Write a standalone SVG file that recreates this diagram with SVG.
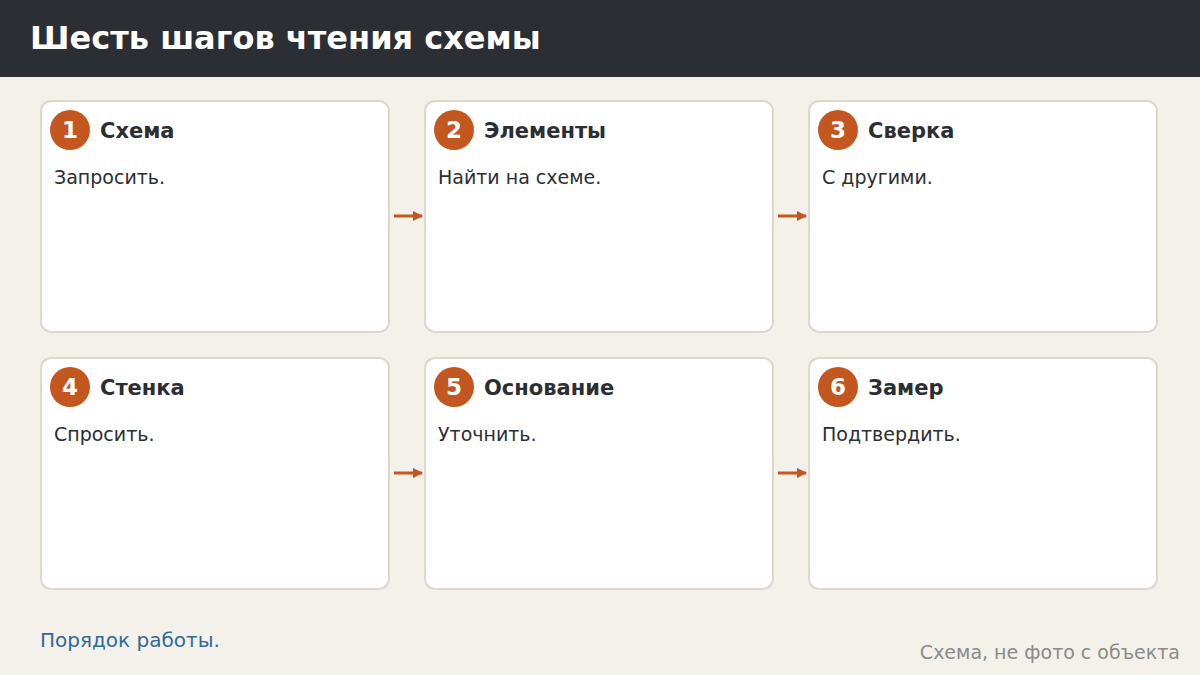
<svg xmlns="http://www.w3.org/2000/svg" width="1200" height="675" viewBox="0 0 1200 675">
<style>
text{font-family:"DejaVu Sans","Noto Sans",sans-serif}
.card{fill:#ffffff;stroke:#ddd8cf;stroke-width:2}
.badge{fill:#c4561f}
.num{fill:#ffffff;font-size:23px;font-weight:bold;text-anchor:middle}
.ttl{fill:#2b2e33;font-size:21px;font-weight:bold}
.body{fill:#2b2e33;font-size:19px}
.arrow{stroke:#c4561f;stroke-width:3;fill:none}
</style>
<defs>
<marker id="ah" viewBox="0 0 10 10" refX="9" refY="5" markerWidth="3.4" markerHeight="3.4" orient="auto" markerUnits="strokeWidth">
<path d="M0,0 L10,5 L0,10 z" fill="#c4561f"/>
</marker>
</defs>
<rect x="0" y="0" width="1200" height="675" fill="#f4f1eb"/>
<rect x="0" y="0" width="1200" height="77" fill="#2b2e33"/>
<text x="30" y="49" fill="#ffffff" font-size="32" font-weight="bold">Шесть шагов чтения схемы</text>

<g id="node1">
<rect class="card" x="41" y="101" width="348" height="231" rx="10"/>
<circle class="badge" cx="70" cy="130" r="20"/>
<text class="num" x="70" y="138">1</text>
<text class="ttl" x="100" y="138">Схема</text>
<text class="body" x="54" y="184">Запросить.</text>
</g>
<g id="node2">
<rect class="card" x="425" y="101" width="348" height="231" rx="10"/>
<circle class="badge" cx="454" cy="130" r="20"/>
<text class="num" x="454" y="138">2</text>
<text class="ttl" x="484" y="138">Элементы</text>
<text class="body" x="438" y="184">Найти на схеме.</text>
</g>
<g id="node3">
<rect class="card" x="809" y="101" width="348" height="231" rx="10"/>
<circle class="badge" cx="838" cy="130" r="20"/>
<text class="num" x="838" y="138">3</text>
<text class="ttl" x="868" y="138">Сверка</text>
<text class="body" x="822" y="184">С другими.</text>
</g>
<g id="node4">
<rect class="card" x="41" y="358" width="348" height="231" rx="10"/>
<circle class="badge" cx="70" cy="387" r="20"/>
<text class="num" x="70" y="395">4</text>
<text class="ttl" x="100" y="395">Стенка</text>
<text class="body" x="54" y="441">Спросить.</text>
</g>
<g id="node5">
<rect class="card" x="425" y="358" width="348" height="231" rx="10"/>
<circle class="badge" cx="454" cy="387" r="20"/>
<text class="num" x="454" y="395">5</text>
<text class="ttl" x="484" y="395">Основание</text>
<text class="body" x="438" y="441">Уточнить.</text>
</g>
<g id="node6">
<rect class="card" x="809" y="358" width="348" height="231" rx="10"/>
<circle class="badge" cx="838" cy="387" r="20"/>
<text class="num" x="838" y="395">6</text>
<text class="ttl" x="868" y="395">Замер</text>
<text class="body" x="822" y="441">Подтвердить.</text>
</g>

<g id="connectors">
<line class="arrow" x1="394" y1="216" x2="422" y2="216" marker-end="url(#ah)"/>
<line class="arrow" x1="778" y1="216" x2="806" y2="216" marker-end="url(#ah)"/>
<line class="arrow" x1="394" y1="473" x2="422" y2="473" marker-end="url(#ah)"/>
<line class="arrow" x1="778" y1="473" x2="806" y2="473" marker-end="url(#ah)"/>
</g>

<text x="40" y="647" fill="#2e6a99" font-size="20">Порядок работы.</text>
<text x="1180" y="659" fill="#8a8a8a" font-size="19" text-anchor="end">Схема, не фото с объекта</text>
</svg>
